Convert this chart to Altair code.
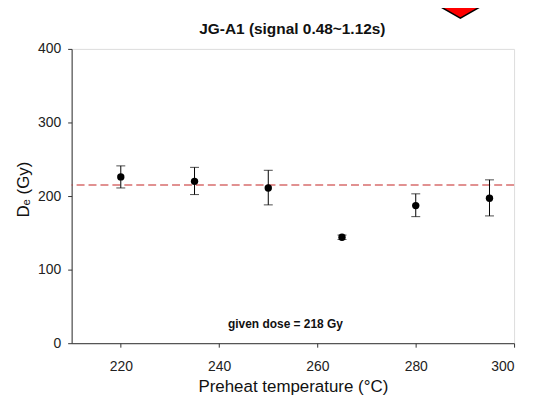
import altair as alt
import pandas as pd

# ---- data ----
temps = [220, 235, 250, 265, 280, 295]
de_values = [226, 220, 211, 144, 187, 197]
err_low = [211, 202, 188, 141, 172, 173]
err_high = [241, 239, 235, 147, 203, 222]
reference_dose = [215]
annotation_x = [253.5]
annotation_y = [26]
annotation_text = ["given dose = 218 Gy"]
title_text = ["JG-A1 (signal 0.48~1.12s)"]
x_ticks = [220, 240, 260, 280, 300]
y_ticks = [0, 100, 200, 300, 400]

df = pd.DataFrame({"T": temps, "De": de_values, "lo": err_low, "hi": err_high})
ref_df = pd.DataFrame({"y": reference_dose})
ann_df = pd.DataFrame({"x": annotation_x, "y": annotation_y, "t": annotation_text})
title_df = pd.DataFrame({"t": title_text})

FONT = "Liberation Sans"

xscale = alt.Scale(domain=[210, 300], nice=False, zero=False)
yscale = alt.Scale(domain=[0, 400], nice=False)

xaxis = alt.Axis(values=x_ticks, title="Preheat temperature (°C)", grid=False,
                 tickSize=4, labelPadding=12, titlePadding=6, labelFontSize=14,
                 titleFontSize=17, labelFont=FONT, titleFont=FONT, titleFontWeight="normal",
                 labelColor="#222", titleColor="#111", domainColor="#333", tickColor="#333")
yaxis = alt.Axis(values=y_ticks, title="Dₑ (Gy)", grid=False,
                 tickSize=4, labelPadding=7, titlePadding=5, labelFontSize=14,
                 titleFontSize=17, labelFont=FONT, titleFont=FONT, titleFontWeight="normal",
                 titleY=141, titleAlign="center",
                 labelColor="#222", titleColor="#111", domainColor="#333", tickColor="#333")

base = alt.Chart(df)

rule_ref = alt.Chart(ref_df).mark_rule(color="#c42424", strokeDash=[8, 4], strokeWidth=1.2).encode(
    y=alt.Y("y:Q", scale=yscale, axis=yaxis)
)

err = base.mark_rule(color="black", strokeWidth=1).encode(
    x=alt.X("T:Q", scale=xscale, axis=xaxis),
    y=alt.Y("lo:Q", scale=yscale, axis=yaxis),
    y2="hi:Q",
)
cap_lo = base.mark_tick(color="black", size=9, thickness=1, orient="horizontal").encode(
    x=alt.X("T:Q", scale=xscale), y=alt.Y("lo:Q", scale=yscale)
)
cap_hi = base.mark_tick(color="black", size=9, thickness=1, orient="horizontal").encode(
    x=alt.X("T:Q", scale=xscale), y=alt.Y("hi:Q", scale=yscale)
)
pts = base.mark_circle(color="black", size=55, opacity=1).encode(
    x=alt.X("T:Q", scale=xscale), y=alt.Y("De:Q", scale=yscale)
)
ann = alt.Chart(ann_df).mark_text(font=FONT, fontSize=12, fontWeight="bold", color="#111").encode(
    x=alt.X("x:Q", scale=xscale), y=alt.Y("y:Q", scale=yscale), text="t:N"
)
# chart title drawn as text above the plot frame
title = alt.Chart(title_df).mark_text(
    font=FONT, fontSize=15.5, fontWeight="bold", color="#111",
    baseline="alphabetic", align="center", clip=False
).encode(x=alt.value(222), y=alt.value(-15), text="t:N")

# decorative red arrow at top of the figure (cut off at the top edge)
arrow = alt.Chart(pd.DataFrame({"a": [0]})).mark_point(
    shape="M-1,-1L1,-1L0,-0.433Z", filled=True, fill="#ff0000", stroke="black",
    strokeWidth=1.5, size=3600, opacity=1, clip=False
).encode(x=alt.value(391), y=alt.value(-18))

chart = alt.layer(rule_ref, err, cap_lo, cap_hi, pts, ann, title, arrow).properties(
    width=445, height=296,
    autosize=alt.AutoSizeParams(type="none"),
    padding={"left": 64, "top": 40, "right": 12, "bottom": 55},
).configure_view(stroke="black", strokeWidth=1).configure(background="white")

chart.save("out.html", embed_options={"renderer": "svg", "actions": False})
